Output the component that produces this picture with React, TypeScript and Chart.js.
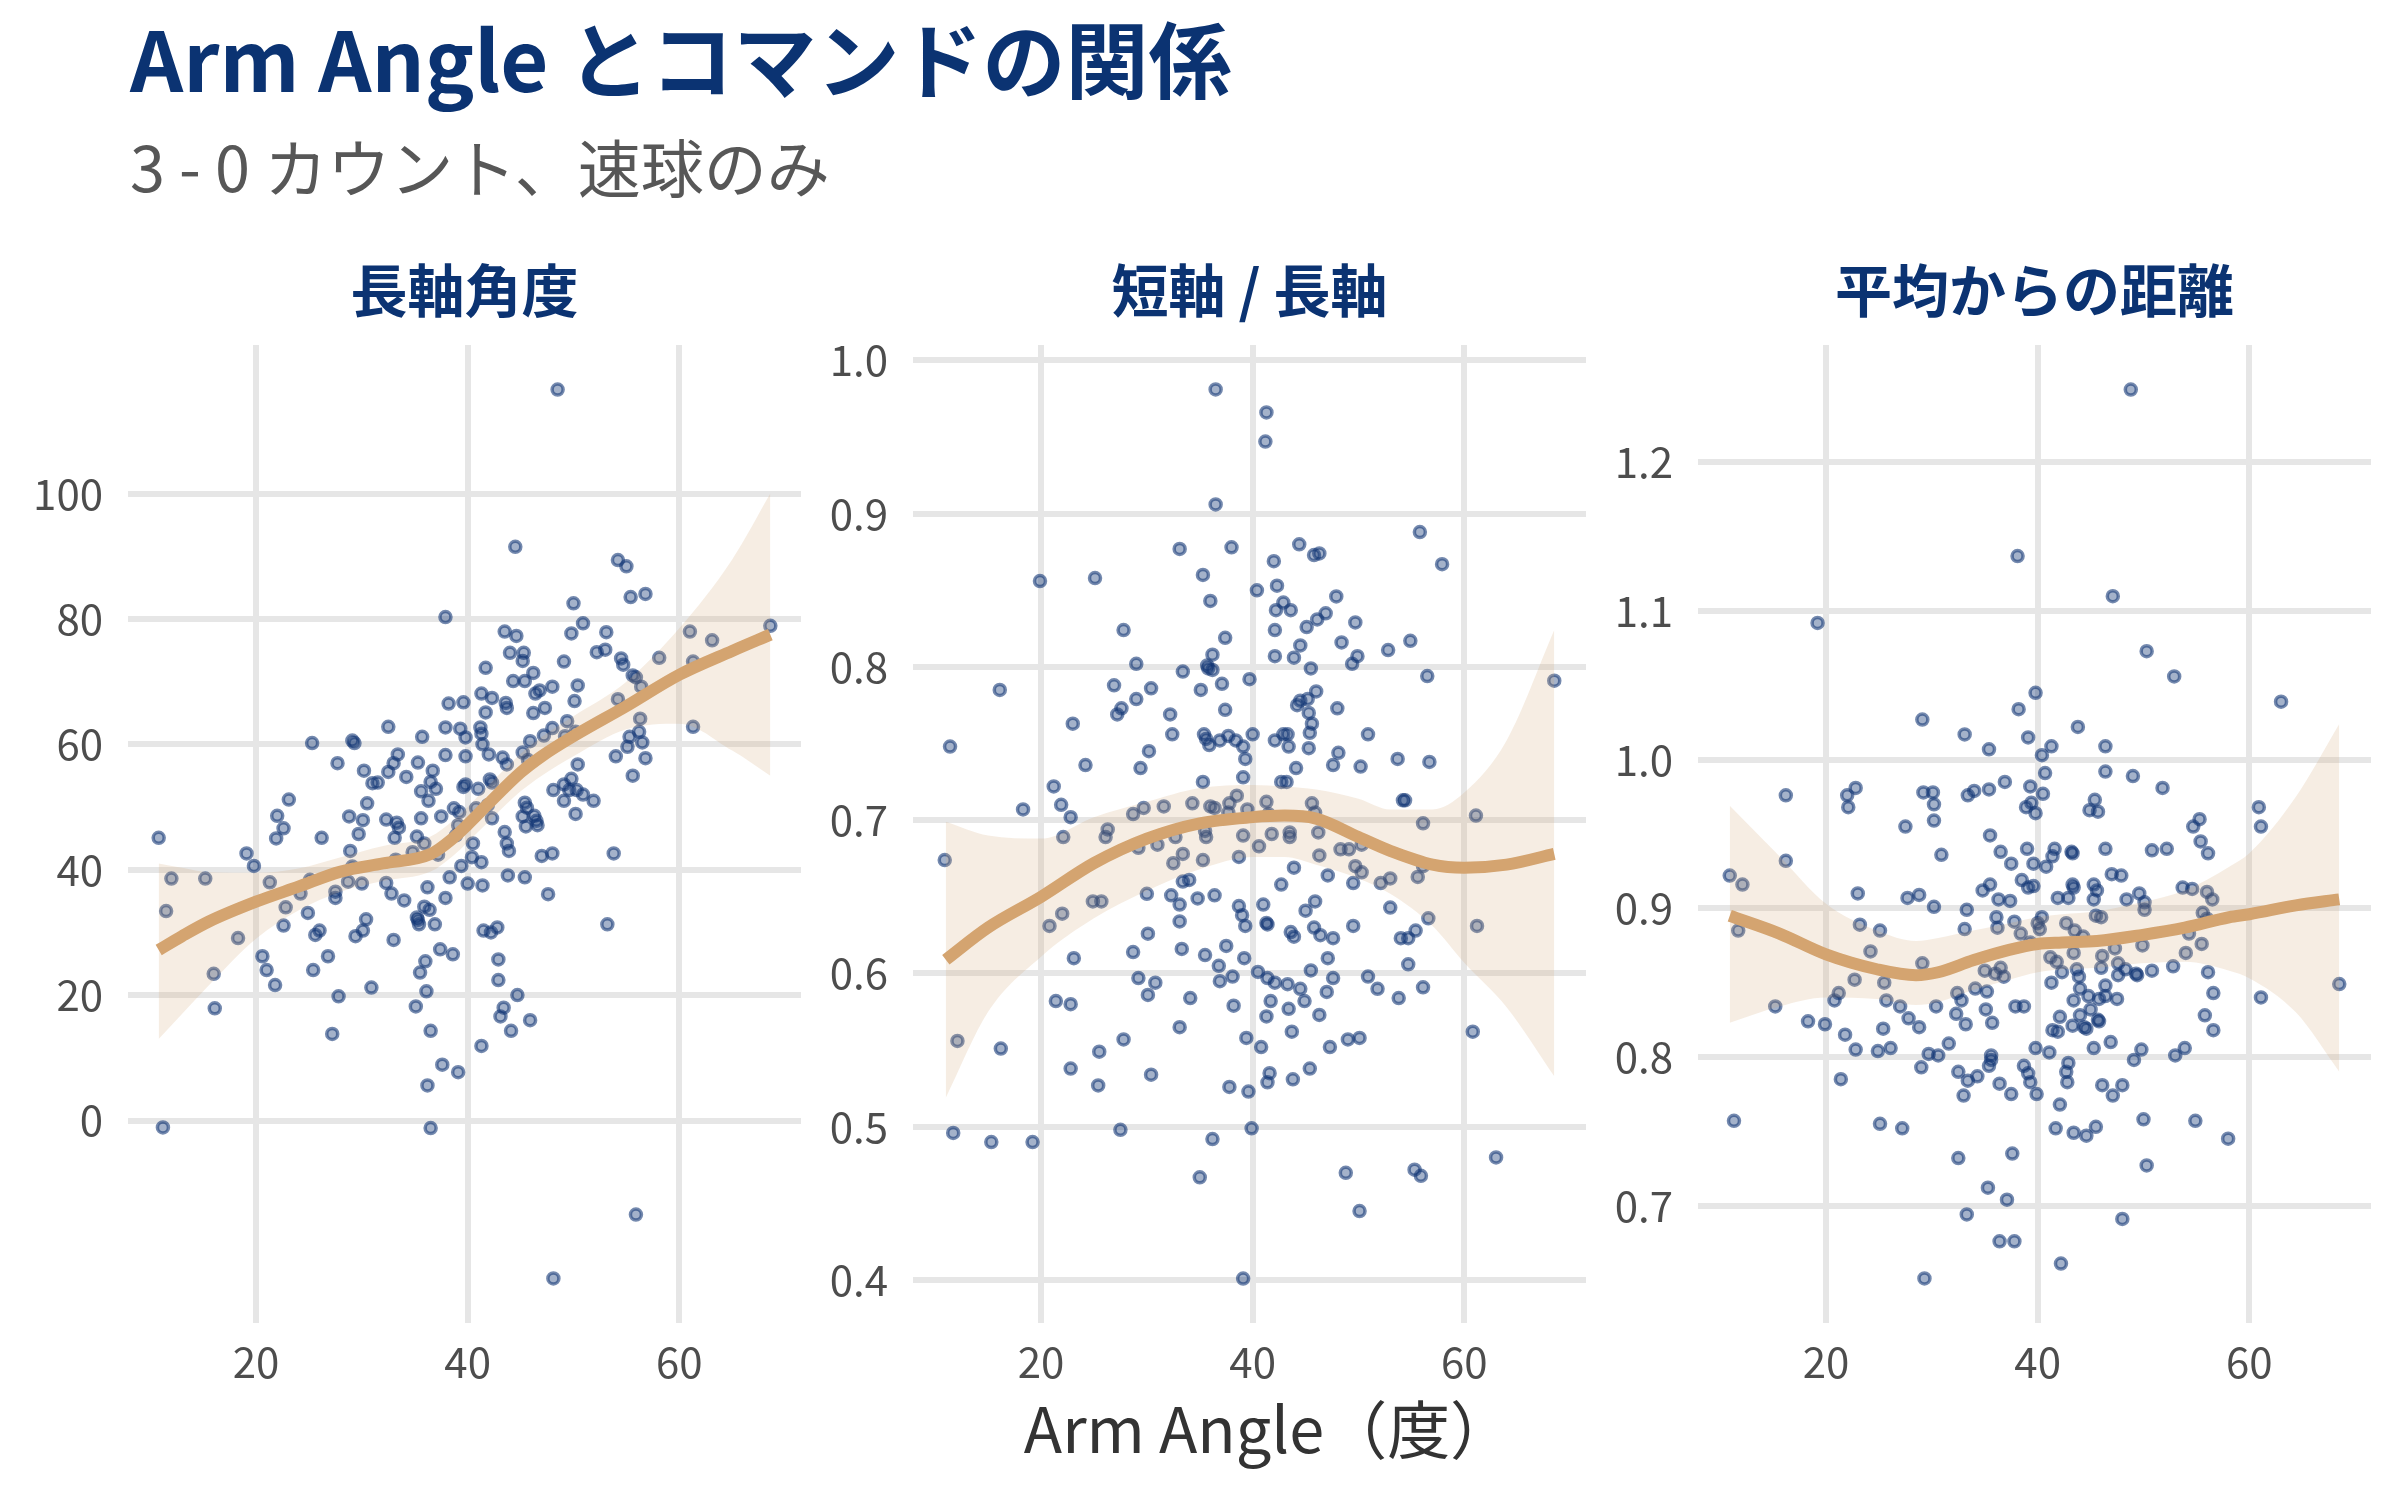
import React, { useEffect, useRef } from "react";
import { Chart, registerables } from "chart.js";

Chart.register(...registerables);

// ---------- text ----------
const TITLE = "Arm Angle とコマンドの関係";
const SUBTITLE = "3 - 0 カウント、速球のみ";
const X_TITLE = "Arm Angle（度）";
const PANEL_TITLES = ["長軸角度", "短軸 / 長軸", "平均からの距離"];

// ---------- shared x axis ----------
const X_TICKS = [20, 40, 60];
const X_LIMITS = [7.9, 71.5];

// ---------- panel 1: 長軸角度 ----------
const P1_Y_TICKS = [0, 20, 40, 60, 80, 100];
const P1_Y_LIMITS = [-32.3, 123.7];
const p1Points: [number, number][] = [
  [48.5, 116.6], [44.5, 91.5], [54.2, 89.4], [55.0, 88.4], [55.4, 83.5], [56.8, 84.0], [50.0, 82.5],
  [37.9, 80.3], [50.9, 79.3], [43.5, 78.0], [44.6, 77.3], [49.8, 77.7], [53.1, 77.9], [68.6, 78.9],
  [61.0, 78.0], [63.1, 76.6], [44.0, 74.6], [45.3, 74.6], [45.2, 73.3], [52.2, 74.7], [53.0, 75.1],
  [54.5, 73.7], [54.7, 72.7], [49.1, 73.2], [58.1, 73.8], [61.3, 73.2], [41.7, 72.2], [46.2, 71.4],
  [55.6, 71.0], [55.9, 70.7], [56.4, 69.2], [44.3, 70.1], [45.4, 70.1], [48.0, 69.2], [46.8, 68.6],
  [46.4, 68.1], [50.4, 69.4], [41.3, 68.1], [42.3, 67.4], [38.2, 66.5], [39.6, 66.7], [43.6, 66.6],
  [43.7, 65.8], [50.1, 66.9], [54.2, 67.2], [41.7, 65.1], [46.2, 65.0], [47.3, 65.8], [56.3, 64.1],
  [49.4, 63.7], [32.5, 62.8], [37.9, 62.7], [39.3, 62.5], [41.2, 62.7], [41.3, 61.7], [39.8, 61.1],
  [35.7, 61.2], [50.2, 62.0], [49.2, 61.3], [48.0, 62.6], [47.2, 61.4], [56.2, 62.0], [55.3, 61.2],
  [61.3, 62.8], [25.3, 60.2], [29.1, 60.6], [29.3, 60.2], [45.9, 60.5], [41.4, 60.0], [56.5, 60.3],
  [55.1, 59.6], [45.2, 58.7], [33.4, 58.4], [37.9, 58.3], [39.8, 58.1], [42.0, 58.4], [54.0, 58.1],
  [56.8, 57.8], [43.3, 57.9], [45.7, 57.5], [27.7, 57.0], [33.0, 57.0], [35.3, 57.1], [50.4, 56.8],
  [43.7, 56.8], [30.2, 55.8], [32.5, 55.6], [36.7, 55.8], [55.6, 55.0], [34.2, 54.8], [31.0, 53.8],
  [31.5, 53.9], [36.5, 54.0], [42.1, 54.4], [42.3, 53.9], [49.8, 54.5], [39.8, 53.6], [39.6, 53.2],
  [41.0, 52.9], [35.6, 52.5], [37.0, 52.9], [48.1, 52.7], [49.1, 53.6], [49.6, 52.7], [50.3, 52.7],
  [50.9, 52.0], [51.9, 51.0], [49.1, 51.0], [23.1, 51.2], [30.5, 50.6], [36.3, 51.0], [38.7, 49.8],
  [40.8, 49.8], [41.9, 50.3], [45.4, 50.7], [45.6, 49.9], [39.2, 49.2], [50.2, 48.9], [22.0, 48.6],
  [28.8, 48.5], [30.1, 47.9], [32.3, 48.0], [33.3, 47.5], [35.6, 48.2], [37.5, 48.5], [45.2, 48.5],
  [46.3, 48.6], [46.5, 47.8], [45.5, 46.9], [46.6, 47.1], [42.3, 48.2], [22.6, 46.6], [33.5, 46.7],
  [39.1, 47.1], [43.5, 46.0], [10.8, 45.1], [26.2, 45.1], [29.7, 45.7], [21.9, 45.0], [33.1, 45.1],
  [35.2, 45.3], [38.9, 45.5],
  [19.1, 42.6], [19.8, 40.6], [12.0, 38.6], [15.2, 38.6], [21.3, 38.0], [11.5, 33.4], [22.8, 34.0],
  [22.6, 31.1], [18.3, 29.1], [24.9, 33.1], [25.1, 38.4], [24.2, 36.2], [27.5, 36.5], [27.5, 35.5],
  [28.9, 43.0], [29.1, 40.5], [28.7, 38.1], [30.0, 37.8], [30.4, 32.1], [30.1, 30.3], [29.4, 29.4],
  [26.0, 30.3], [25.6, 29.6], [32.3, 37.9], [32.8, 36.2], [34.0, 35.1], [33.0, 28.8], [33.2, 41.6],
  [34.8, 42.8], [35.9, 44.2], [37.2, 42.4], [40.5, 44.2], [40.4, 42.0], [41.3, 41.2], [39.4, 40.6],
  [38.3, 38.8], [36.2, 37.2], [37.9, 35.5], [40.0, 37.8], [41.4, 37.5], [35.9, 34.1], [36.4, 33.6],
  [35.3, 32.0], [35.2, 32.4], [35.4, 31.3], [36.9, 31.3], [43.9, 43.0], [43.7, 44.2], [43.8, 39.1],
  [45.4, 38.8], [47.0, 42.2], [48.0, 42.6], [53.8, 42.6], [47.6, 36.1], [53.2, 31.3], [41.5, 30.3],
  [42.2, 30.0], [42.8, 30.8], [37.4, 27.3], [38.6, 26.5], [36.0, 25.4], [35.5, 23.6], [42.9, 25.7],
  [42.9, 22.4], [20.6, 26.2], [21.0, 24.0], [21.8, 21.6], [26.8, 26.2], [25.4, 24.0], [16.0, 23.4],
  [16.1, 17.9], [27.8, 19.8], [30.9, 21.2], [36.1, 20.6], [35.1, 18.2], [44.7, 20.0], [43.4, 18.0],
  [43.1, 16.6], [45.9, 16.0], [44.1, 14.3], [36.5, 14.3], [27.2, 13.8], [41.3, 11.9], [37.6, 8.9],
  [39.1, 7.7], [36.2, 5.6], [11.2, -1.1], [36.5, -1.2], [55.9, -15.0], [48.1, -25.2],
];
const p1CurveX = [10.8, 13, 15.5, 20, 24, 28, 32, 36.5, 38.6, 40, 42, 45, 47, 50, 55, 60, 65, 68.6];
const p1CurveY = [27.2, 29.4, 31.7, 34.9, 37.3, 39.7, 41.0, 42.5, 45.0, 47.2, 50.6, 55.5, 58.1, 61.3, 66.1, 71.1, 74.9, 77.5];
const p1BandHi = [41, 40.3, 39.6, 39.5, 40.2, 42, 43.8, 45.3, 47.8, 50, 53.5, 58.5, 61.2, 64.5, 70, 78.5, 89.5, 100];
const p1BandLo = [13, 17, 21.5, 29, 33.5, 36.5, 38.2, 39.7, 42.2, 44.4, 47.7, 52.5, 55, 58.1, 62.4, 63.3, 59, 55];

// ---------- panel 2: 短軸 / 長軸 ----------
const P2_Y_TICKS = [0.4, 0.5, 0.6, 0.7, 0.8, 0.9, 1.0];
const P2_Y_LIMITS = [0.372, 1.01];
const p2Points: [number, number][] = [
  [36.5, 0.981], [41.3, 0.966], [41.2, 0.947], [36.5, 0.906], [55.8, 0.888], [33.1, 0.877], [38.0, 0.878],
  [44.4, 0.880], [45.8, 0.873], [46.3, 0.874], [42.0, 0.869], [57.9, 0.867], [19.9, 0.856], [25.1, 0.858],
  [35.3, 0.860], [40.4, 0.850], [42.3, 0.853], [36.0, 0.843], [47.9, 0.846], [42.9, 0.842], [42.2, 0.837],
  [43.6, 0.837], [46.9, 0.835], [46.1, 0.831], [45.1, 0.826], [49.7, 0.829], [27.8, 0.824], [42.1, 0.824],
  [37.4, 0.819], [44.5, 0.814], [48.4, 0.816], [54.9, 0.817], [52.8, 0.811], [36.2, 0.808], [42.1, 0.807],
  [43.9, 0.806], [49.9, 0.807], [49.4, 0.802], [29.0, 0.802], [35.7, 0.801], [35.8, 0.799], [36.2, 0.798],
  [33.4, 0.797], [45.5, 0.799], [56.5, 0.794], [68.5, 0.791], [39.7, 0.792], [37.1, 0.789], [26.9, 0.788],
  [30.4, 0.786], [35.1, 0.785], [16.1, 0.785], [46.0, 0.784], [45.2, 0.779], [44.5, 0.778], [44.2, 0.775],
  [29.0, 0.779], [27.6, 0.773], [27.2, 0.769], [37.4, 0.772], [48.0, 0.773], [45.3, 0.770], [32.2, 0.769],
  [23.0, 0.763], [45.6, 0.763], [45.4, 0.757], [32.4, 0.756], [35.4, 0.756], [35.6, 0.753], [37.7, 0.755],
  [38.4, 0.752], [36.9, 0.752], [35.9, 0.749], [40.0, 0.756], [39.1, 0.748], [42.9, 0.756], [43.3, 0.756],
  [42.1, 0.752], [43.4, 0.748], [45.3, 0.747], [50.9, 0.756], [11.4, 0.748], [30.2, 0.745], [39.3, 0.740],
  [48.1, 0.744], [47.6, 0.736], [50.2, 0.735], [53.7, 0.740], [56.7, 0.738], [44.1, 0.734], [24.2, 0.736],
  [29.4, 0.734], [35.3, 0.725], [39.1, 0.728], [42.7, 0.725], [43.2, 0.725], [21.2, 0.722], [21.9, 0.710],
  [18.3, 0.707], [22.8, 0.702], [28.7, 0.704], [29.7, 0.708], [31.6, 0.709], [34.3, 0.711], [36.0, 0.709],
  [36.4, 0.708], [37.8, 0.711], [38.5, 0.716], [37.7, 0.705], [39.5, 0.707], [41.3, 0.712], [41.5, 0.704],
  [45.6, 0.711], [45.9, 0.705], [54.2, 0.713], [54.4, 0.713], [61.1, 0.703], [56.1, 0.698], [26.3, 0.694],
  [22.1, 0.689], [26.1, 0.689], [32.7, 0.689], [35.5, 0.693], [35.6, 0.689], [39.1, 0.690], [41.8, 0.691],
  [43.5, 0.692], [43.5, 0.689], [46.2, 0.692],
  [10.9, 0.674], [29.2, 0.682], [31.0, 0.684], [33.4, 0.678], [32.5, 0.672], [35.3, 0.674], [38.7, 0.676],
  [40.6, 0.683], [46.3, 0.677], [48.3, 0.681], [49.1, 0.681], [50.3, 0.684], [49.7, 0.670], [50.3, 0.666],
  [56.1, 0.670], [43.9, 0.669], [47.1, 0.664], [49.5, 0.659], [52.1, 0.659], [53.0, 0.662], [55.6, 0.663],
  [42.7, 0.658], [33.4, 0.660], [34.0, 0.661], [30.0, 0.652], [32.3, 0.651], [33.1, 0.645], [34.8, 0.649],
  [36.4, 0.651], [24.9, 0.647], [25.7, 0.647], [22.0, 0.639], [20.8, 0.631], [38.7, 0.644], [39.0, 0.638],
  [39.3, 0.631], [41.0, 0.645], [41.3, 0.633], [41.4, 0.632], [45.0, 0.641], [45.9, 0.647], [45.8, 0.630],
  [43.6, 0.627], [43.9, 0.624], [46.4, 0.625], [47.6, 0.623], [49.5, 0.631], [53.0, 0.643], [56.6, 0.636],
  [55.4, 0.628], [54.7, 0.623], [54.0, 0.623], [61.2, 0.631], [33.1, 0.634], [30.1, 0.626], [28.7, 0.614],
  [23.1, 0.610], [33.3, 0.616], [35.5, 0.612], [37.5, 0.618], [36.8, 0.605], [39.2, 0.610], [47.1, 0.610],
  [54.7, 0.606], [45.5, 0.602], [40.5, 0.601], [41.4, 0.597], [42.1, 0.594], [43.3, 0.593], [44.5, 0.590],
  [47.6, 0.597], [50.9, 0.598], [51.8, 0.590], [53.8, 0.584], [56.1, 0.591], [38.1, 0.598], [36.9, 0.595],
  [29.2, 0.597], [30.8, 0.594], [30.1, 0.586], [34.1, 0.584], [21.4, 0.582], [22.8, 0.580], [38.2, 0.579],
  [41.7, 0.582], [43.4, 0.577], [44.9, 0.582], [47.0, 0.588], [41.3, 0.572], [46.3, 0.573], [33.1, 0.565],
  [43.7, 0.562], [60.8, 0.562], [12.1, 0.556], [16.2, 0.551], [25.5, 0.549], [27.8, 0.557], [39.4, 0.558],
  [40.8, 0.552], [47.3, 0.552], [49.0, 0.557], [50.1, 0.558], [22.8, 0.538], [30.4, 0.534], [25.4, 0.527],
  [37.8, 0.526], [39.6, 0.523], [41.6, 0.535], [41.4, 0.529], [43.8, 0.531], [45.4, 0.538], [11.7, 0.496],
  [15.3, 0.490], [19.2, 0.490], [27.5, 0.498], [36.2, 0.492], [39.9, 0.499], [35.0, 0.467], [48.8, 0.470],
  [55.3, 0.472], [55.9, 0.468], [50.1, 0.445], [63.0, 0.480], [39.1, 0.401],
];
const p2CurveX = [11, 15, 20, 25, 30, 35, 40, 43, 46, 50, 53, 57, 60, 64, 68.5];
const p2CurveY = [0.609, 0.630, 0.650, 0.672, 0.688, 0.698, 0.702, 0.703, 0.701, 0.689, 0.680, 0.671, 0.669, 0.671, 0.678];
const p2BandHi = [0.699, 0.690, 0.688, 0.702, 0.712, 0.721, 0.723, 0.722, 0.720, 0.714, 0.707, 0.707, 0.718, 0.752, 0.824];
const p2BandLo = [0.519, 0.575, 0.611, 0.636, 0.654, 0.668, 0.676, 0.676, 0.671, 0.662, 0.652, 0.631, 0.607, 0.578, 0.533];

// ---------- panel 3: 平均からの距離 ----------
const P3_Y_TICKS = [0.7, 0.8, 0.9, 1.0, 1.1, 1.2];
const P3_Y_LIMITS = [0.621, 1.279];
const p3Points: [number, number][] = [
  [48.8, 1.249], [38.1, 1.137], [47.1, 1.110], [19.2, 1.092], [50.3, 1.073], [52.9, 1.056], [39.8, 1.045],
  [38.2, 1.034], [63.0, 1.039], [29.1, 1.027], [33.1, 1.017], [39.1, 1.015], [35.4, 1.007], [41.3, 1.009],
  [43.8, 1.022], [40.4, 1.003], [46.4, 1.009], [40.7, 0.991], [46.4, 0.992], [49.0, 0.989], [51.8, 0.981],
  [36.9, 0.985], [39.3, 0.982], [35.4, 0.980], [34.0, 0.979], [33.4, 0.976], [29.2, 0.978], [30.1, 0.978],
  [30.2, 0.970], [30.2, 0.959], [27.5, 0.955], [22.8, 0.981], [22.0, 0.976], [22.1, 0.968], [16.2, 0.976],
  [40.5, 0.977], [39.4, 0.971], [38.9, 0.968], [39.8, 0.964], [45.4, 0.973], [44.9, 0.966], [45.7, 0.965],
  [60.9, 0.968], [61.1, 0.955], [55.3, 0.960], [54.7, 0.955],
  [35.5, 0.949], [55.4, 0.945], [30.9, 0.936], [36.5, 0.938], [39.0, 0.940], [41.6, 0.940], [41.4, 0.935],
  [43.2, 0.938], [43.3, 0.937], [46.4, 0.940], [50.8, 0.939], [52.2, 0.940], [56.1, 0.937], [16.2, 0.932],
  [37.5, 0.930], [39.6, 0.930], [40.8, 0.928], [10.9, 0.922], [12.1, 0.916], [23.0, 0.910], [27.7, 0.907],
  [28.8, 0.909], [30.2, 0.901], [33.3, 0.899], [34.8, 0.912], [35.5, 0.916], [36.3, 0.906], [37.4, 0.905],
  [38.5, 0.919], [39.1, 0.914], [39.6, 0.915], [41.9, 0.907], [42.9, 0.907], [43.3, 0.916], [43.4, 0.914],
  [45.3, 0.916], [45.6, 0.912], [45.3, 0.906], [47.0, 0.923], [47.9, 0.922], [48.4, 0.906], [49.6, 0.910],
  [50.1, 0.904], [50.1, 0.899], [53.7, 0.914], [54.6, 0.913], [56.0, 0.911], [56.5, 0.906], [55.6, 0.897],
  [56.0, 0.893], [11.7, 0.885], [23.2, 0.889], [25.1, 0.885], [33.1, 0.886], [36.1, 0.894], [36.2, 0.887],
  [37.8, 0.891], [38.4, 0.883], [40.0, 0.890], [40.4, 0.894], [40.2, 0.886], [42.7, 0.890], [43.5, 0.885],
  [44.3, 0.881], [45.5, 0.895], [46.0, 0.894], [49.9, 0.875], [54.3, 0.883], [55.5, 0.876], [54.0, 0.870],
  [24.2, 0.871], [29.1, 0.863], [39.3, 0.877], [43.4, 0.870], [46.1, 0.868], [47.3, 0.873], [22.7, 0.852],
  [25.5, 0.850], [21.2, 0.843], [20.8, 0.838], [15.2, 0.834], [25.7, 0.838], [27.0, 0.834], [27.8, 0.826],
  [28.8, 0.820], [30.4, 0.834], [32.4, 0.843], [32.8, 0.838], [32.3, 0.829], [33.2, 0.822], [34.1, 0.846],
  [35.2, 0.844], [35.1, 0.832], [35.7, 0.823], [35.0, 0.858], [36.0, 0.856], [36.8, 0.854], [36.5, 0.860],
  [37.9, 0.834], [38.7, 0.834], [41.3, 0.850], [41.2, 0.867], [41.8, 0.864], [42.3, 0.857], [43.7, 0.859],
  [43.9, 0.854], [46.0, 0.860], [46.4, 0.848], [44.0, 0.846], [44.8, 0.841], [43.4, 0.838], [45.8, 0.839],
  [46.4, 0.841], [47.5, 0.839], [47.6, 0.863], [47.6, 0.855], [48.3, 0.859], [49.3, 0.856], [49.4, 0.855],
  [50.8, 0.858], [52.8, 0.861], [56.1, 0.857], [56.6, 0.843], [61.1, 0.840], [68.5, 0.849], [45.0, 0.832],
  [44.0, 0.828], [45.7, 0.825], [45.8, 0.824], [42.1, 0.827], [43.3, 0.821], [44.4, 0.820], [44.6, 0.819],
  [41.4, 0.818], [41.9, 0.817], [55.8, 0.828], [56.6, 0.818], [18.3, 0.824], [19.9, 0.822], [21.8, 0.815],
  [22.8, 0.805], [24.9, 0.804], [26.1, 0.806], [25.4, 0.819], [29.7, 0.802], [30.6, 0.801], [31.6, 0.809],
  [29.0, 0.793], [21.4, 0.785], [32.5, 0.790], [33.4, 0.784], [34.3, 0.787], [33.0, 0.774], [35.6, 0.801],
  [35.6, 0.798], [35.4, 0.794], [36.4, 0.782], [37.5, 0.775], [38.7, 0.794], [39.1, 0.789], [39.3, 0.783],
  [39.9, 0.775], [39.8, 0.806], [41.1, 0.803], [42.9, 0.796], [42.7, 0.790], [42.8, 0.783], [45.3, 0.806],
  [46.9, 0.810], [49.1, 0.798], [49.8, 0.805], [53.0, 0.801], [53.9, 0.806], [46.1, 0.781], [48.0, 0.781],
  [47.1, 0.774], [42.1, 0.768], [11.3, 0.757], [25.1, 0.755], [27.2, 0.752], [41.7, 0.752], [43.4, 0.749],
  [44.6, 0.747], [45.5, 0.753], [50.0, 0.758], [54.9, 0.757], [58.0, 0.745], [32.5, 0.732], [37.6, 0.735],
  [50.3, 0.727], [35.3, 0.712], [37.1, 0.704], [33.3, 0.694], [48.0, 0.691], [36.4, 0.676], [37.8, 0.676],
  [42.2, 0.661], [29.3, 0.651],
];
const p3CurveX = [10.9, 15.6, 20, 24.8, 28.5, 30.6, 33.9, 37.3, 40, 42.3, 45.6, 49.8, 53.9, 58.1, 60, 64.4, 68.5];
const p3CurveY = [0.895, 0.883, 0.869, 0.859, 0.855, 0.857, 0.865, 0.872, 0.876, 0.877, 0.878, 0.882, 0.887, 0.894, 0.896, 0.902, 0.906];
const p3BandHi = [0.969, 0.935, 0.903, 0.885, 0.878, 0.880, 0.885, 0.890, 0.894, 0.896, 0.898, 0.904, 0.912, 0.928, 0.937, 0.975, 1.024];
const p3BandLo = [0.823, 0.834, 0.840, 0.839, 0.835, 0.837, 0.845, 0.852, 0.857, 0.859, 0.860, 0.863, 0.864, 0.858, 0.853, 0.830, 0.790];

// ---------- styles ----------
const FONT = "'Noto Sans CJK JP', 'Noto Sans', sans-serif";
const NAVY = "#0B3372";
const GRID = "#E6E6E6";
const TICK_COLOR = "#4D4D4D";
const CURVE_COLOR = "#D4A470";
const BAND_COLOR = "rgba(212,163,115,0.2)";
const POINT_FILL = "rgba(16,52,115,0.38)";
const POINT_EDGE = "rgba(16,52,115,0.58)";

const PLOT_TOP = 345;
const PLOT_H = 978;
const PLOT_W = 673;
const Y_AXIS_W = 128;
const X_AXIS_H = 80;
const PAD_TOP = 30;
const PAD_RIGHT = 12;

type PanelProps = {
  plotLeft: number;
  points: [number, number][];
  curveX: number[];
  curveY: number[];
  bandHi: number[];
  bandLo: number[];
  yLimits: number[];
  yTicks: number[];
  decimals: number;
};

function Panel(props: PanelProps) {
  const ref = useRef<HTMLCanvasElement | null>(null);
  const { plotLeft, points, curveX, curveY, bandHi, bandLo, yLimits, yTicks, decimals } = props;
  const cw = Y_AXIS_W + PLOT_W + PAD_RIGHT;
  const ch = PAD_TOP + PLOT_H + X_AXIS_H;

  useEffect(() => {
    const canvas = ref.current;
    if (!canvas) return;
    const tickFont = { family: FONT, size: 42 };
    const chart = new Chart(canvas, {
      type: "scatter",
      data: {
        datasets: [
          {
            type: "line",
            data: curveX.map((x, i) => ({ x, y: curveY[i] })),
            borderColor: CURVE_COLOR,
            borderWidth: 12,
            pointRadius: 0,
            fill: false,
            showLine: true,
            cubicInterpolationMode: "monotone",
            order: 0,
          },
          {
            type: "line",
            data: curveX.map((x, i) => ({ x, y: bandHi[i] })),
            borderColor: "rgba(0,0,0,0)",
            borderWidth: 0,
            pointRadius: 0,
            showLine: true,
            fill: "+1",
            backgroundColor: BAND_COLOR,
            cubicInterpolationMode: "monotone",
            order: 1,
          },
          {
            type: "line",
            data: curveX.map((x, i) => ({ x, y: bandLo[i] })),
            borderColor: "rgba(0,0,0,0)",
            borderWidth: 0,
            pointRadius: 0,
            showLine: true,
            fill: false,
            cubicInterpolationMode: "monotone",
            order: 2,
          },
          {
            type: "scatter",
            data: points.map(([x, y]) => ({ x, y })),
            pointRadius: 5.5,
            pointHoverRadius: 5.5,
            borderWidth: 3.5,
            backgroundColor: POINT_FILL,
            borderColor: POINT_EDGE,
            order: 3,
          },
        ],
      } as any,
      options: {
        responsive: false,
        animation: false,
        events: [],
        layout: { padding: { top: PAD_TOP, right: PAD_RIGHT, left: 0, bottom: 0 } },
        plugins: { legend: { display: false }, tooltip: { enabled: false }, title: { display: false } },
        scales: {
          x: {
            type: "linear",
            min: X_LIMITS[0],
            max: X_LIMITS[1],
            afterBuildTicks: (s: any) => {
              s.ticks = X_TICKS.map((v) => ({ value: v }));
            },
            afterFit: (s: any) => {
              s.height = X_AXIS_H;
              s.paddingLeft = 0;
              s.paddingRight = 0;
            },
            grid: { color: GRID, lineWidth: 6, drawTicks: false },
            border: { display: false },
            ticks: {
              font: tickFont,
              color: TICK_COLOR,
              padding: 14,
              maxRotation: 0,
              autoSkip: false,
              callback: (v: any) => String(v),
            },
          },
          y: {
            type: "linear",
            min: yLimits[0],
            max: yLimits[1],
            afterBuildTicks: (s: any) => {
              s.ticks = yTicks.map((v) => ({ value: v }));
            },
            afterFit: (s: any) => {
              s.width = Y_AXIS_W;
              s.paddingTop = 0;
              s.paddingBottom = 0;
            },
            grid: { color: GRID, lineWidth: 6, drawTicks: false },
            border: { display: false },
            ticks: {
              font: tickFont,
              color: TICK_COLOR,
              padding: 25,
              autoSkip: false,
              callback: (v: any) => Number(v).toFixed(decimals),
            },
          },
        },
      } as any,
    });
    return () => chart.destroy();
  }, []);

  return (
    <canvas
      ref={ref}
      width={cw}
      height={ch}
      style={{
        position: "absolute",
        left: plotLeft - Y_AXIS_W,
        top: PLOT_TOP - PAD_TOP,
        width: cw,
        height: ch,
      }}
    />
  );
}

const PANEL_LEFTS = [128, 913, 1698];

export default function App() {
  useEffect(() => {
    document.body.style.margin = "0";
  }, []);

  const panels = [
    { points: p1Points, curveX: p1CurveX, curveY: p1CurveY, bandHi: p1BandHi, bandLo: p1BandLo, yLimits: P1_Y_LIMITS, yTicks: P1_Y_TICKS, decimals: 0 },
    { points: p2Points, curveX: p2CurveX, curveY: p2CurveY, bandHi: p2BandHi, bandLo: p2BandLo, yLimits: P2_Y_LIMITS, yTicks: P2_Y_TICKS, decimals: 1 },
    { points: p3Points, curveX: p3CurveX, curveY: p3CurveY, bandHi: p3BandHi, bandLo: p3BandLo, yLimits: P3_Y_LIMITS, yTicks: P3_Y_TICKS, decimals: 1 },
  ];

  const textBase: React.CSSProperties = {
    position: "absolute",
    whiteSpace: "nowrap",
    fontFamily: FONT,
    lineHeight: 1,
    margin: 0,
  };

  return (
    <div
      style={{
        position: "absolute",
        left: 0,
        top: 0,
        width: 2400,
        height: 1500,
        background: "#ffffff",
        overflow: "hidden",
      }}
    >
      <div style={{ ...textBase, left: 130, top: 15, fontSize: 83, fontWeight: 700, color: NAVY }}>{TITLE}</div>
      <div style={{ ...textBase, left: 130, top: 133, fontSize: 63, fontWeight: 400, color: "#575757" }}>{SUBTITLE}</div>
      {PANEL_TITLES.map((t, i) => (
        <div
          key={t}
          style={{
            ...textBase,
            left: PANEL_LEFTS[i] + PLOT_W / 2,
            top: 259,
            fontSize: 57,
            fontWeight: 700,
            color: NAVY,
            transform: "translateX(-50%)",
          }}
        >
          {t}
        </div>
      ))}
      {panels.map((p, i) => (
        <Panel key={i} plotLeft={PANEL_LEFTS[i]} {...p} />
      ))}
      <div
        style={{
          ...textBase,
          left: (PANEL_LEFTS[0] + PANEL_LEFTS[2] + PLOT_W) / 2 + 19,
          top: 1394,
          fontSize: 63,
          color: "#333333",
          transform: "translateX(-50%)",
        }}
      >
        {X_TITLE}
      </div>
    </div>
  );
}
